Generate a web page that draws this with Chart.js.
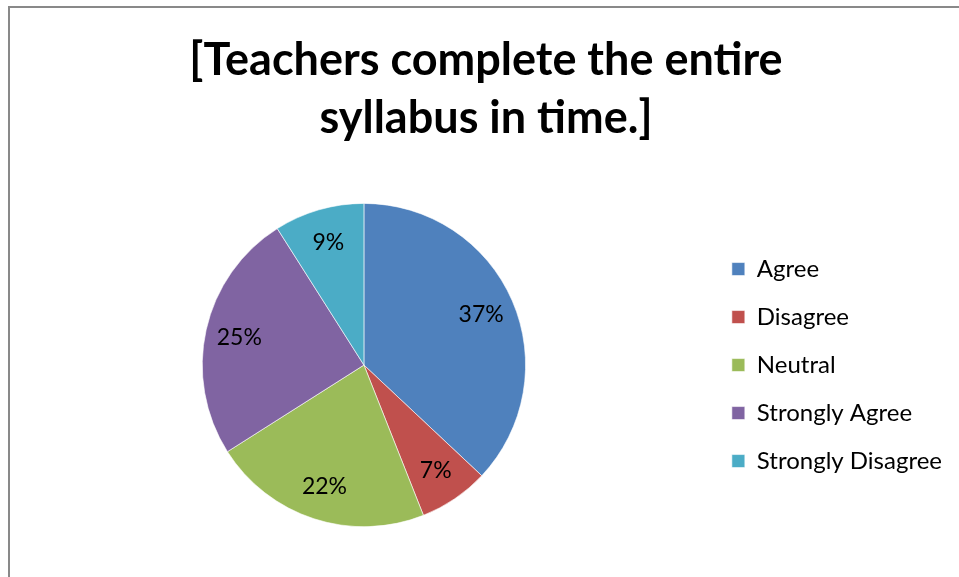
<!DOCTYPE html>
<html>
<head>
<meta charset="utf-8">
<script src="https://cdn.jsdelivr.net/npm/chart.js@4"></script>
<style>
  html, body { margin: 0; padding: 0; background: #fff; }
  #wrap { position: relative; width: 959px; height: 577px; }
  #frame { position: absolute; left: 8px; top: 6px; right: 0; bottom: 0;
           border-left: 2px solid #898989; border-top: 2px solid #898989; pointer-events: none; }
</style>
</head>
<body>
<div id="wrap">
  <canvas id="chart" width="959" height="577"></canvas>
  <div id="frame"></div>
</div>
<script>
const categories = ['Agree', 'Disagree', 'Neutral', 'Strongly Agree', 'Strongly Disagree'];
const percentages = [37, 7, 22, 25, 9];
const colors = ['#4F81BD', '#C0504D', '#9BBB59', '#8064A2', '#4BACC6'];
const titleLines = ['[Teachers complete the entire', 'syllabus in time.]'];

const fontFamily = 'Lato, "Open Sans", sans-serif';

// percent labels placed at ~79% of the radius, like Excel does
const sliceLabels = {
    id: 'sliceLabels',
    afterDatasetsDraw(chart) {
        const ctx = chart.ctx;
        const meta = chart.getDatasetMeta(0);
        ctx.save();
        ctx.font = '23px ' + fontFamily;
        ctx.fillStyle = '#000';
        ctx.textAlign = 'center';
        ctx.textBaseline = 'middle';
        meta.data.forEach((arc, i) => {
            const p = arc.getProps(['x', 'y', 'startAngle', 'endAngle', 'outerRadius'], true);
            const mid = (p.startAngle + p.endAngle) / 2;
            const r = p.outerRadius * 0.79;
            ctx.fillText(percentages[i] + '%', p.x + Math.cos(mid) * r, p.y + Math.sin(mid) * r);
        });
        ctx.restore();
    }
};

new Chart(document.getElementById('chart'), {
    type: 'pie',
    data: {
        labels: categories,
        datasets: [{
            data: percentages,
            backgroundColor: colors,
            borderColor: '#ffffff',
            borderWidth: 0.6,
        }],
    },
    options: {
        responsive: false,
        animation: false,
        layout: { padding: { left: 20, right: 7, top: 0, bottom: 50 } },
        plugins: {
            title: {
                display: true,
                text: titleLines,
                color: '#000',
                font: { family: fontFamily, size: 45, weight: 'bold', lineHeight: 1.29 },
                padding: { top: 31, bottom: 56 },
            },
            legend: {
                position: 'right',
                fullSize: false,
                labels: {
                    color: '#000',
                    boxWidth: 13,
                    boxHeight: 13,
                    padding: 24,
                    font: { family: fontFamily, size: 24 },
                },
            },
            tooltip: { enabled: false },
        },
    },
    plugins: [sliceLabels],
});
</script>
</body>
</html>
